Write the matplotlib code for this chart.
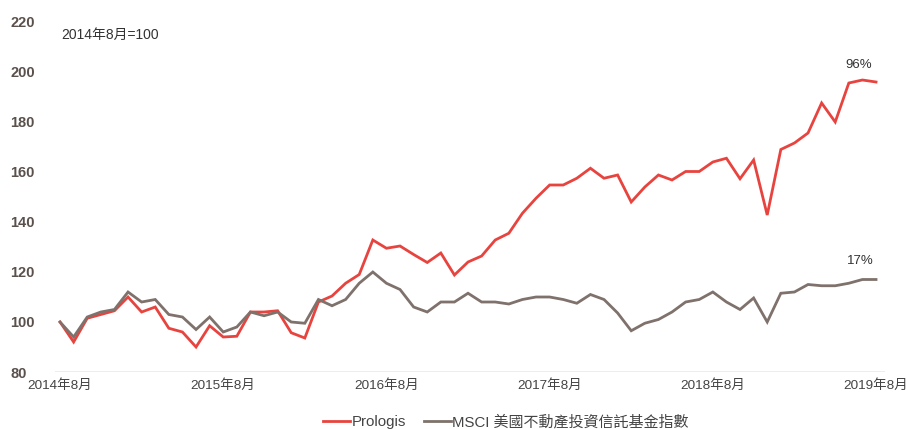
import matplotlib
matplotlib.use("Agg")
import matplotlib.pyplot as plt
from matplotlib.lines import Line2D

plt.rcParams['font.family'] = ['Liberation Sans', 'Noto Sans CJK TC', 'DejaVu Sans']

tick_labels = ["2014年8月", "2015年8月", "2016年8月", "2017年8月", "2018年8月", "2019年8月"]
tick_positions = [0, 12, 24, 36, 48, 60]

prologis = [100, 92, 101.5, 103, 104.5, 110, 104, 106, 97.5, 96, 90, 98.5, 94, 94.3, 104,
            104, 104.5, 95.7, 93.6, 108, 110.4, 115.5, 119, 132.8, 129.5, 130.4, 127, 123.8,
            127.6, 118.8, 124, 126.4, 132.8, 135.5, 143.5, 149.5, 154.8, 154.8, 157.5, 161.5,
            157.5, 158.8, 148, 154, 158.8, 156.8, 160.2, 160.2, 164, 165.5, 157.3, 164.8, 142.8,
            169, 171.6, 175.6, 187.6, 180, 195.6, 196.8, 196]
msci = [100, 94, 102, 104, 105, 112, 108, 109, 103, 102, 97, 102, 96, 98, 104, 102.5, 104,
        100, 99.5, 109, 106.5, 109, 115.5, 120, 115.5, 113, 106, 104, 108, 108, 111.5, 108,
        108, 107.2, 109, 110, 110, 109, 107.5, 111, 109, 103.6, 96.5, 99.5, 101, 104, 108,
        109, 112, 108, 105, 109.6, 100, 111.5, 112, 115, 114.5, 114.5, 115.5, 117, 117]

series_names = ["Prologis", "MSCI 美國不動產投資信託基金指數"]
annotations = ["96%", "17%"]

red = '#e8443f'
gray = '#7f716b'

fig = plt.figure(figsize=(9.07, 4.29), dpi=100)
ax = fig.add_axes([55/907, 1-372/429, 830/907, 350/429])

x = list(range(len(prologis)))
ax.plot(x, prologis, color=red, lw=2.0, solid_joinstyle='miter')
ax.plot(x, msci, color=gray, lw=2.0, solid_joinstyle='miter')

ax.set_ylim(80, 220)
ax.set_xlim(-0.37, 60.66)
ax.set_yticks(range(80, 221, 20))
ax.set_xticks(tick_positions)
ax.set_xticklabels(tick_labels, fontsize=9.7, color='#444444')
for s in ax.spines.values():
    s.set_visible(False)
ax.axhline(80, color='#ebebeb', lw=2.0, zorder=0)
ax.tick_params(axis='both', length=0)
ax.tick_params(axis='x', pad=5)
ax.tick_params(axis='y', pad=32)
for lbl in ax.get_yticklabels():
    lbl.set_fontsize(10.5)
    lbl.set_color('#5a504c')
    lbl.set_fontweight('bold')
    lbl.set_horizontalalignment('left')

ax.text(60 - 0.3, prologis[-1] + 4.5, annotations[0], ha='right', va='bottom', fontsize=9.5, color='#333333')
ax.text(60 - 0.2, msci[-1] + 5.0, annotations[1], ha='right', va='bottom', fontsize=9.5, color='#333333')

fig.text(61/907, 1-35/429, "2014年8月=100", fontsize=10, color='#333333', va='center', ha='left')

handles = [Line2D([0], [0], color=red, lw=2.0), Line2D([0], [0], color=gray, lw=2.0)]
fig.legend(handles, series_names, loc='center', bbox_to_anchor=(506/907, 1-422/429), ncol=2,
           frameon=False, fontsize=10.8, handlelength=1.8, handletextpad=0.1, columnspacing=1.2,
           labelcolor='#444444')

fig.savefig('out.png', dpi=100)
